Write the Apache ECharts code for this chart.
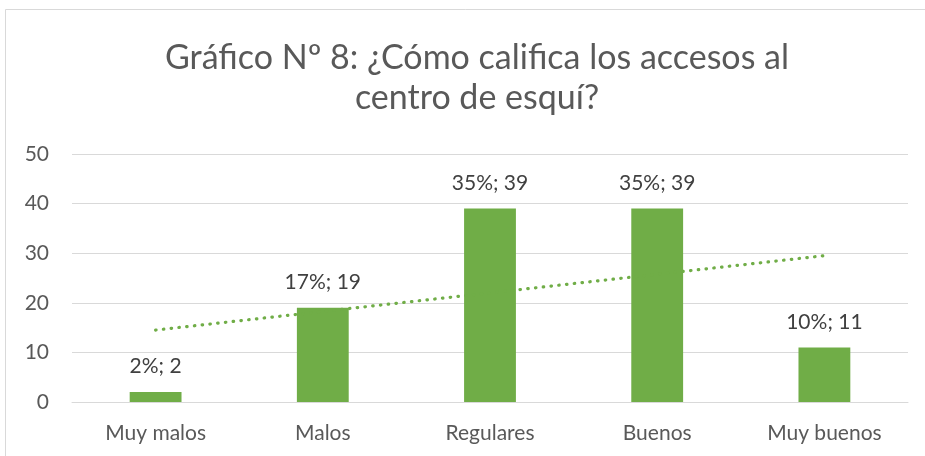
<!DOCTYPE html>
<html>
<head>
<meta charset="utf-8">
<script src="https://cdn.jsdelivr.net/npm/echarts@6/dist/echarts.min.js"></script>
<style>
	html, body { margin: 0; padding: 0; background: #fff; }
	#main { width: 925px; height: 456px; }
</style>
</head>
<body>
<div id="main"></div>
<script>
'use strict';
// datos del gráfico
var categorias = ['Muy malos', 'Malos', 'Regulares', 'Buenos', 'Muy buenos'];
var valores = [2, 19, 39, 39, 11];
var porcentajes = ['2%', '17%', '35%', '35%', '10%'];
// línea de tendencia: extremos
var tendencia = [[0, 14.5], [4, 29.5]];
var ticksY = [0, 10, 20, 30, 40, 50];

var fuente = 'Lato';
var chart = echarts.init(document.getElementById('main'));

var option = {
	backgroundColor: '#fff',
	animation: false,
	title: {
		text: 'Gráfico Nº 8: ¿Cómo califica los accesos al\ncentro de esquí?',
		left: 472,
		textAlign: 'center',
		top: 33,
		textStyle: {
			fontFamily: fuente,
			fontWeight: 'normal',
			fontSize: 34,
			lineHeight: 40,
			color: '#595959'
		}
	},
	graphic: [{
		type: 'rect',
		shape: { x: 5.5, y: 9.5, width: 940, height: 470 },
		style: { fill: 'none', stroke: '#d9d9d9', lineWidth: 1 },
		silent: true
	}],
	grid: {
		left: 72,
		right: 17,
		top: 154,
		bottom: 54
	},
	xAxis: {
		type: 'category',
		data: categorias,
		axisLine: { lineStyle: { color: '#d9d9d9', width: 1 } },
		axisTick: { show: false },
		axisLabel: {
			fontFamily: fuente,
			fontSize: 21,
			color: '#595959',
			margin: 21
		}
	},
	yAxis: {
		type: 'value',
		min: ticksY[0],
		max: ticksY[ticksY.length - 1],
		interval: 10,
		axisLine: { show: false },
		axisTick: { show: false },
		splitLine: { lineStyle: { color: '#d9d9d9', width: 1 } },
		axisLabel: {
			fontFamily: fuente,
			fontSize: 21,
			color: '#595959',
			margin: 23
		}
	},
	series: [{
		type: 'bar',
		data: valores,
		barWidth: '31%',
		itemStyle: { color: '#70ad47' },
		label: {
			show: true,
			position: 'top',
			distance: 15,
			fontFamily: fuente,
			fontSize: 21,
			color: '#404040',
			formatter: function(p) {
				return porcentajes[p.dataIndex] + '; ' + p.value;
			}
		}
	}, {
		type: 'line',
		data: tendencia,
		symbol: 'none',
		silent: true,
		z: 3,
		lineStyle: {
			color: '#70ad47',
			width: 3.2,
			type: [0.5, 7.3],
			cap: 'round'
		}
	}]
};

chart.setOption(option);
</script>
</body>
</html>
